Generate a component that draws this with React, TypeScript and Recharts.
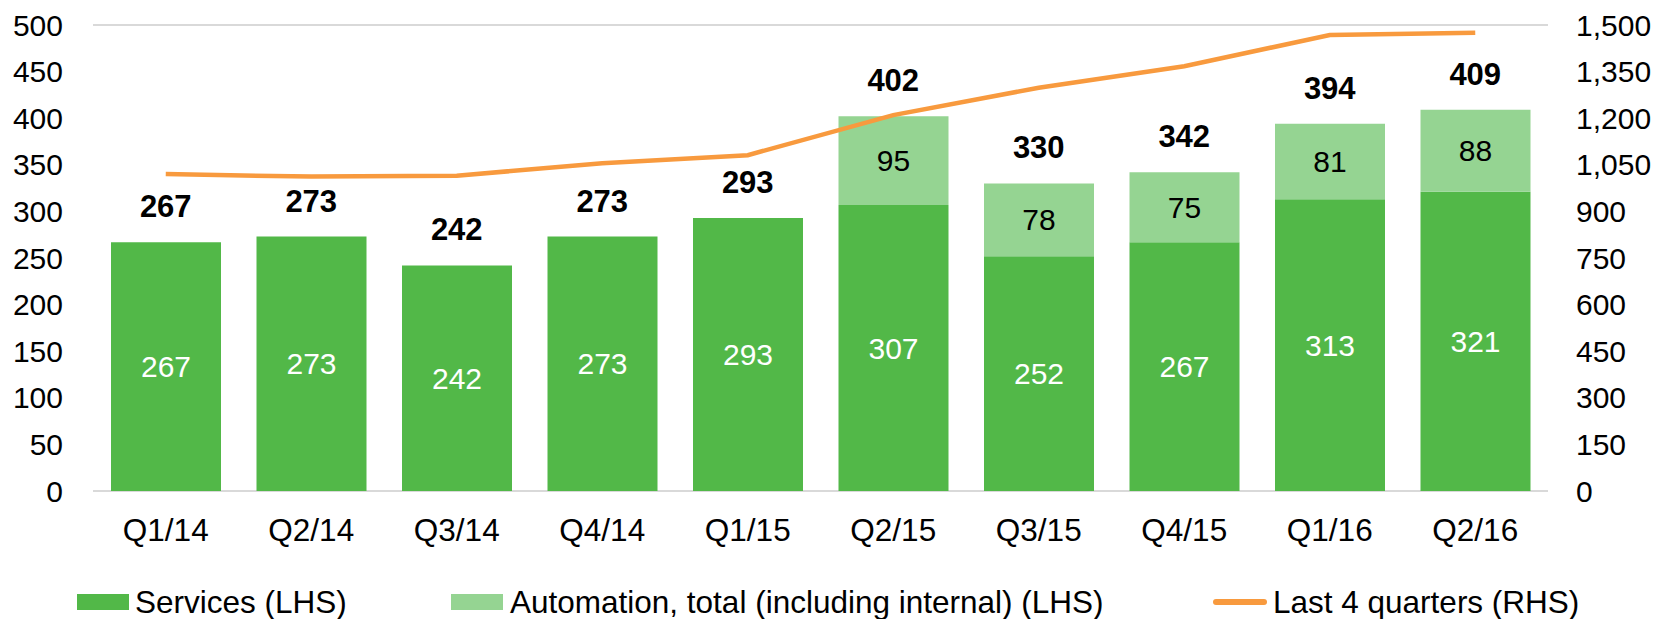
import React from 'react';
import {
    ComposedChart,
    Bar,
    Line,
    XAxis,
    YAxis,
    CartesianGrid,
    LabelList,
} from 'recharts';

const quarters = ['Q1/14', 'Q2/14', 'Q3/14', 'Q4/14', 'Q1/15', 'Q2/15', 'Q3/15', 'Q4/15', 'Q1/16', 'Q2/16'];
const services = [267, 273, 242, 273, 293, 307, 252, 267, 313, 321];
const automation = [null, null, null, null, null, 95, 78, 75, 81, 88];
const totals = [267, 273, 242, 273, 293, 402, 330, 342, 394, 409];
const last4Quarters = [1020, 1012, 1015, 1055, 1081, 1210, 1298, 1367, 1468, 1475];

const leftTicks = [0, 50, 100, 150, 200, 250, 300, 350, 400, 450, 500];
const rightTicks = [0, 150, 300, 450, 600, 750, 900, 1050, 1200, 1350, 1500];

const data = quarters.map((q, i) => ({
    quarter: q,
    services: services[i],
    automation: automation[i],
    total: totals[i],
    last4: last4Quarters[i],
}));

const darkGreen = '#52b848';
const lightGreen = '#95d492';
const orange = '#f89a3e';
const gridColor = '#d9d9d9';
const font = '"Liberation Sans", Arial, sans-serif';

const tickStyle = { fontSize: 30, fill: '#000', fontFamily: font };
const xTickStyle = { fontSize: 31.5, fill: '#000', fontFamily: font };

const App: React.FC = () => {
    return (
        <div style={{ position: 'absolute', left: 0, top: 0, width: 1673, height: 619, background: '#fff', fontFamily: font }}>
            <ComposedChart
                width={1673}
                height={619}
                data={data}
                margin={{ top: 25, right: 0, bottom: 0, left: 0 }}
                barCategoryGap="12%"
            >
                <CartesianGrid vertical={false} stroke={gridColor} strokeWidth={2} />
                <XAxis
                    dataKey="quarter"
                    height={128}
                    axisLine={false}
                    tickLine={false}
                    tickSize={0}
                    tickMargin={28}
                    tick={xTickStyle}
                    interval={0}
                />
                <YAxis
                    yAxisId="left"
                    width={93}
                    domain={[0, 500]}
                    ticks={leftTicks}
                    axisLine={false}
                    tickLine={false}
                    tickSize={0}
                    tickMargin={30}
                    tick={tickStyle}
                    interval={0}
                />
                <YAxis
                    yAxisId="right"
                    orientation="right"
                    width={125}
                    domain={[0, 1500]}
                    ticks={rightTicks}
                    axisLine={false}
                    tickLine={false}
                    tickSize={0}
                    tickMargin={28}
                    tick={tickStyle}
                    interval={0}
                    tickFormatter={(v: number) => v.toLocaleString('en-US')}
                />
                <Bar yAxisId="left" dataKey="services" stackId="a" fill={darkGreen} barSize={110} isAnimationActive={false}>
                    <LabelList dataKey="services" position="center" fill="#fff" fontSize={30} fontFamily={font} />
                </Bar>
                <Bar yAxisId="left" dataKey="automation" stackId="a" fill={lightGreen} barSize={110} isAnimationActive={false}>
                    <LabelList
                        dataKey="automation"
                        position="center"
                        fill="#000"
                        fontSize={30}
                        fontFamily={font}
                        formatter={(v: any) => (v == null ? '' : v)}
                    />
                </Bar>
                {/* invisible series carrying the bold totals above each stack */}
                <Line
                    yAxisId="left"
                    dataKey="total"
                    stroke="none"
                    dot={false}
                    activeDot={false}
                    legendType="none"
                    isAnimationActive={false}
                >
                    <LabelList dataKey="total" position="top" offset={25} fill="#000" fontSize={31} fontWeight="bold" fontFamily={font} />
                </Line>
                <Line
                    yAxisId="right"
                    dataKey="last4"
                    stroke={orange}
                    strokeWidth={4.5}
                    dot={false}
                    activeDot={false}
                    isAnimationActive={false}
                />
            </ComposedChart>

            {/* Legend */}
            <div style={{ position: 'absolute', top: 585, left: 0, width: 1673, height: 34, fontSize: 31.5, color: '#000' }}>
                <div style={{ position: 'absolute', left: 77, top: 0, display: 'flex', alignItems: 'center', height: 34 }}>
                    <span style={{ display: 'inline-block', width: 52, height: 16, background: darkGreen, marginRight: 6 }} />
                    <span>Services (LHS)</span>
                </div>
                <div style={{ position: 'absolute', left: 451, top: 0, display: 'flex', alignItems: 'center', height: 34 }}>
                    <span style={{ display: 'inline-block', width: 52, height: 16, background: lightGreen, marginRight: 7 }} />
                    <span>Automation, total (including internal) (LHS)</span>
                </div>
                <div style={{ position: 'absolute', left: 1213, top: 0, display: 'flex', alignItems: 'center', height: 34 }}>
                    <span style={{ display: 'inline-block', width: 54, height: 6, borderRadius: 3, background: orange, marginRight: 6 }} />
                    <span>Last 4 quarters (RHS)</span>
                </div>
            </div>
        </div>
    );
};

export default App;
